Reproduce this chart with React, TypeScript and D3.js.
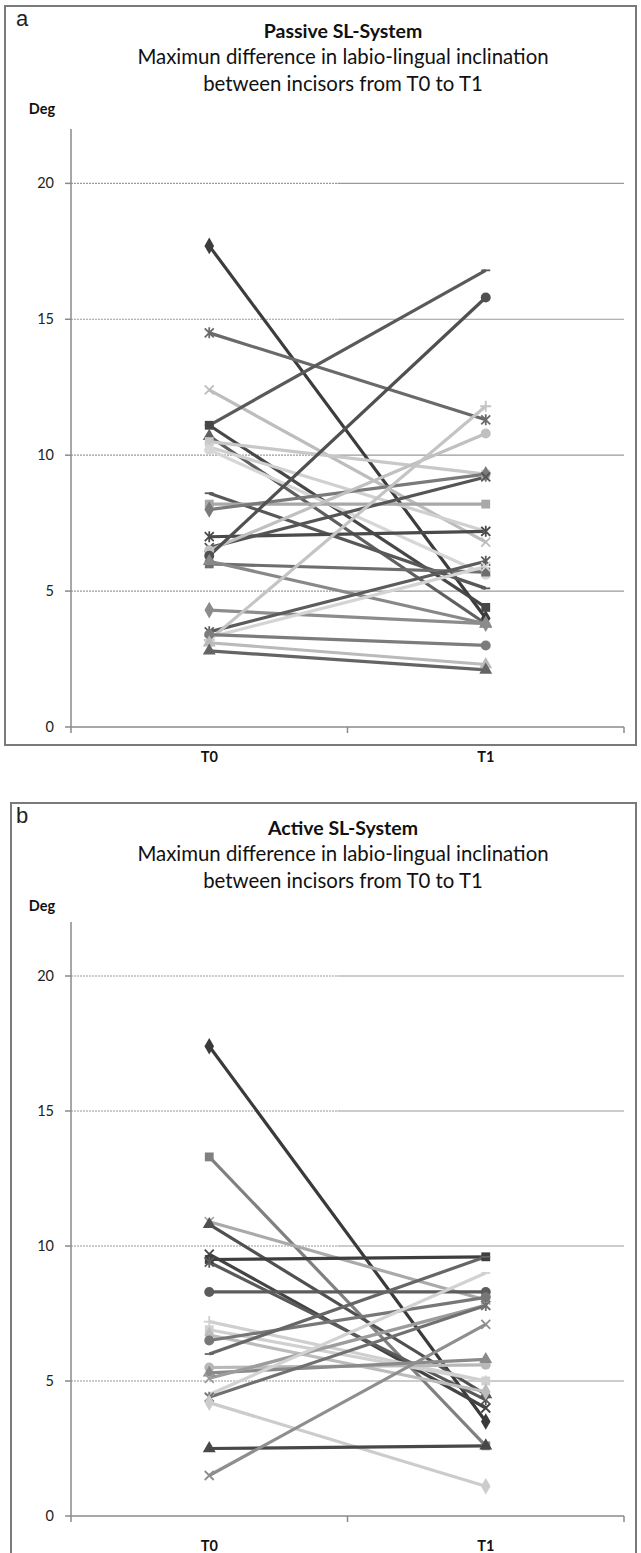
import React, { useEffect, useRef } from 'react';
import * as d3 from 'd3';

// Panel a: Passive SL-System
const categories = ['T0', 'T1'];
const passiveT0 = [17.7, 14.5, 12.4, 11.1, 11.1, 10.7, 10.5, 10.3, 10.2, 8.6, 8.2, 8.0, 7.0, 6.6, 6.5, 6.3, 6.0, 6.1, 4.3, 3.5, 3.2, 3.3, 3.4, 3.1, 2.8];
const passiveT1 = [4.0, 11.3, 6.8, 16.8, 4.4, 3.8, 9.3, 7.2, 5.6, 5.1, 8.2, 9.3, 7.2, 9.2, 10.8, 15.8, 5.7, 3.8, 3.8, 6.1, 11.8, 5.9, 3.0, 2.3, 2.1];
const passiveMarkers = ['diamond', 'asterisk', 'x', 'dash', 'square', 'triangle', 'square', 'x', 'circle', 'dash', 'square', 'diamond', 'asterisk', 'x', 'circle', 'circle', 'square', 'triangle', 'diamond', 'asterisk', 'plus', 'x', 'circle', 'triangle', 'triangle'];
const passiveGreys = ['#3c3c3c', '#6a6a6a', '#bdbdbd', '#5a5a5a', '#474747', '#5f5f5f', '#c8c8c8', '#d0d0d0', '#d6d6d6', '#585858', '#a8a8a8', '#7a7a7a', '#4a4a4a', '#555555', '#c0c0c0', '#505050', '#6e6e6e', '#888888', '#8c8c8c', '#5c5c5c', '#c4c4c4', '#d4d4d4', '#7c7c7c', '#bababa', '#646464'];

// Panel b: Active SL-System
const activeT0 = [17.4, 13.3, 10.9, 10.8, 9.7, 9.5, 9.4, 8.3, 7.2, 6.9, 6.7, 6.5, 6.0, 5.5, 5.3, 5.1, 4.5, 4.4, 4.2, 2.5, 1.5];
const activeT1 = [3.5, 2.6, 8.0, 4.5, 4.0, 9.6, 4.3, 8.3, 5.0, 5.0, 4.6, 8.1, 9.6, 5.6, 5.8, 7.8, 9.0, 7.8, 1.1, 2.6, 7.1];
const activeMarkers = ['diamond', 'square', 'x', 'triangle', 'x', 'square', 'asterisk', 'circle', 'plus', 'square', 'diamond', 'circle', 'dash', 'circle', 'triangle', 'x', 'dash', 'asterisk', 'diamond', 'triangle', 'x'];
const activeGreys = ['#3a3a3a', '#808080', '#aaaaaa', '#505050', '#444444', '#3e3e3e', '#5a5a5a', '#5c5c5c', '#cfcfcf', '#d0d0d0', '#bcbcbc', '#777777', '#666666', '#b8b8b8', '#8a8a8a', '#9c9c9c', '#d2d2d2', '#707070', '#cccccc', '#484848', '#8e8e8e'];

const yTicks = [0, 5, 10, 15, 20];

const W = 641;
const H = 1553;

function drawMarker(g: any, kind: string, x: number, y: number, color: string) {
  const s = 4.5;
  if (kind === 'diamond' || kind === 'square' || kind === 'triangle' || kind === 'circle') {
    const type = kind === 'diamond' ? d3.symbolDiamond : kind === 'square' ? d3.symbolSquare : kind === 'triangle' ? d3.symbolTriangle : d3.symbolCircle;
    const size = kind === 'diamond' ? 80 : kind === 'triangle' ? 72 : 78;
    g.append('path')
      .attr('d', d3.symbol().type(type).size(size)())
      .attr('transform', `translate(${x},${y})`)
      .attr('fill', color);
  } else {
    const p = d3.path();
    if (kind === 'x' || kind === 'asterisk') {
      p.moveTo(x - s, y - s); p.lineTo(x + s, y + s);
      p.moveTo(x - s, y + s); p.lineTo(x + s, y - s);
    }
    if (kind === 'asterisk' || kind === 'plus') {
      p.moveTo(x, y - s - 1); p.lineTo(x, y + s + 1);
    }
    if (kind === 'plus') {
      p.moveTo(x - s - 1, y); p.lineTo(x + s + 1, y);
    }
    if (kind === 'dash') {
      p.moveTo(x - s, y); p.lineTo(x + s, y);
    }
    g.append('path')
      .attr('d', p.toString())
      .attr('stroke', color)
      .attr('stroke-width', 1.8)
      .attr('fill', 'none');
  }
}

function drawPanel(svg: any, opts: any) {
  const { top, frameLeft, letter, title, t0, t1, markers, greys, plotTop, plotBottom, frameBottom } = opts;
  const left = 71;
  const right = 624;
  const font = 'Lato, "Open Sans", sans-serif';

  svg.append('rect')
    .attr('x', frameLeft).attr('y', top)
    .attr('width', 636 - frameLeft).attr('height', frameBottom - top)
    .attr('fill', 'white')
    .attr('stroke', '#7a7a7a').attr('stroke-width', 2);

  svg.append('text')
    .attr('x', 16).attr('y', top + 20)
    .attr('font-family', '"Liberation Sans", Arial, sans-serif')
    .attr('font-size', 22)
    .attr('fill', '#222')
    .text(letter);

  svg.append('text')
    .attr('x', 343).attr('y', top + 32)
    .attr('text-anchor', 'middle')
    .attr('font-family', font)
    .attr('font-weight', 'bold')
    .attr('font-size', 19.5)
    .attr('fill', '#111')
    .text(title);

  const sub = ['Maximun difference in labio-lingual inclination', 'between incisors from T0 to T1'];
  sub.forEach((line, i) => {
    svg.append('text')
      .attr('x', 343).attr('y', top + 58 + i * 27)
      .attr('text-anchor', 'middle')
      .attr('font-family', font)
      .attr('font-size', 20.4)
      .attr('fill', '#111')
      .text(line);
  });

  svg.append('text')
    .attr('x', 42).attr('y', top + 108)
    .attr('text-anchor', 'middle')
    .attr('font-family', font)
    .attr('font-weight', 'bold')
    .attr('font-size', 14.5)
    .attr('fill', '#111')
    .text('Deg');

  const y = d3.scaleLinear().domain([0, 22]).range([plotBottom, plotTop]);
  const x = d3.scalePoint().domain(categories).range([left, right]).padding(0.5);
  const mid = (left + right) / 2;

  // gridlines: dotted-looking left half, solid right half
  yTicks.filter(t => t > 0).forEach(t => {
    svg.append('line')
      .attr('x1', left).attr('x2', mid - 10)
      .attr('y1', y(t)).attr('y2', y(t))
      .attr('stroke', '#9a9a9a').attr('stroke-width', 1.2)
      .attr('stroke-dasharray', '2,1');
    svg.append('line')
      .attr('x1', mid - 10).attr('x2', right)
      .attr('y1', y(t)).attr('y2', y(t))
      .attr('stroke', '#9a9a9a').attr('stroke-width', 1.2);
  });

  // y axis
  svg.append('line')
    .attr('x1', left).attr('x2', left)
    .attr('y1', plotTop).attr('y2', plotBottom)
    .attr('stroke', '#8a8a8a').attr('stroke-width', 1.5);
  yTicks.forEach(t => {
    svg.append('line')
      .attr('x1', left - 6).attr('x2', left)
      .attr('y1', y(t)).attr('y2', y(t))
      .attr('stroke', '#8a8a8a').attr('stroke-width', 1.5);
    svg.append('text')
      .attr('x', 54).attr('y', y(t) + 5)
      .attr('text-anchor', 'end')
      .attr('font-family', font)
      .attr('font-size', 14.5)
      .attr('fill', '#222')
      .text(t);
  });

  // x axis
  svg.append('line')
    .attr('x1', left).attr('x2', right)
    .attr('y1', plotBottom).attr('y2', plotBottom)
    .attr('stroke', '#8a8a8a').attr('stroke-width', 1.5);
  [left, mid, right].forEach(tx => {
    svg.append('line')
      .attr('x1', tx).attr('x2', tx)
      .attr('y1', plotBottom).attr('y2', plotBottom + 6)
      .attr('stroke', '#8a8a8a').attr('stroke-width', 1.5);
  });
  categories.forEach(c => {
    svg.append('text')
      .attr('x', x(c)).attr('y', plotBottom + 35)
      .attr('text-anchor', 'middle')
      .attr('font-family', font)
      .attr('font-weight', 'bold')
      .attr('font-size', 14.5)
      .attr('fill', '#111')
      .text(c);
  });

  const g = svg.append('g');
  const line = d3.line<[string, number]>().x(d => x(d[0]) as number).y(d => y(d[1]));
  t0.forEach((v: number, i: number) => {
    const pts: [string, number][] = [['T0', v], ['T1', t1[i]]];
    g.append('path')
      .attr('d', line(pts))
      .attr('stroke', greys[i])
      .attr('stroke-width', 3.2)
      .attr('fill', 'none');
  });
  t0.forEach((v: number, i: number) => {
    drawMarker(g, markers[i], x('T0') as number, y(v), greys[i]);
    drawMarker(g, markers[i], x('T1') as number, y(t1[i]), greys[i]);
  });
}

export default function App() {
  const ref = useRef<SVGSVGElement>(null);

  useEffect(() => {
    document.body.style.margin = '0';
    const svg = d3.select(ref.current);
    svg.selectAll('*').remove();
    svg.append('rect').attr('width', W).attr('height', H).attr('fill', 'white');

    drawPanel(svg, {
      top: 6, frameLeft: 5, letter: 'a', title: 'Passive SL-System',
      t0: passiveT0, t1: passiveT1, markers: passiveMarkers, greys: passiveGreys,
      plotTop: 129, plotBottom: 727, frameBottom: 745,
    });
    drawPanel(svg, {
      top: 803, frameLeft: 11, letter: 'b', title: 'Active SL-System',
      t0: activeT0, t1: activeT1, markers: activeMarkers, greys: activeGreys,
      plotTop: 922, plotBottom: 1516, frameBottom: 1570,
    });
  }, []);

  return <svg ref={ref} width={W} height={H} style={{ display: 'block' }} />;
}
